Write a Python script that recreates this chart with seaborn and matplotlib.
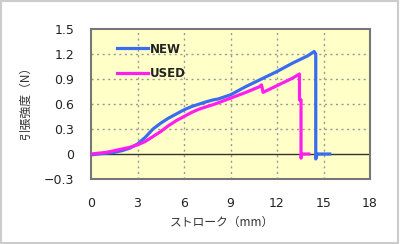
import numpy as np
import pandas as pd
import matplotlib
matplotlib.use("Agg")
import matplotlib.pyplot as plt
from matplotlib.patches import Rectangle
import seaborn as sns

# ---- data ----
new_x = [0, 0.5, 1, 1.5, 2, 2.5, 3, 3.5, 4, 4.5, 5, 5.5, 6, 6.5, 7, 7.5, 7.9, 8.2,
         9, 10, 11, 12, 13, 14, 14.4, 14.5, 14.5, 14.6, 15, 15.4]
new_y = [-0.01, 0.0, 0.01, 0.02, 0.04, 0.07, 0.12, 0.2, 0.3, 0.37, 0.43, 0.48, 0.53,
         0.57, 0.6, 0.63, 0.65, 0.66, 0.71, 0.81, 0.9, 0.99, 1.09, 1.18, 1.23, 1.2,
         -0.06, 0.0, 0.0, 0.0]
used_x = [0, 0.5, 1, 1.5, 2, 2.5, 3, 3.5, 4, 4.5, 5, 5.5, 6, 6.5, 7, 7.5, 8, 9, 10,
          10.9, 11.0, 11.1, 12, 13, 13.45, 13.45, 13.55, 13.55, 13.6, 14.05]
used_y = [0.0, 0.01, 0.02, 0.04, 0.06, 0.08, 0.11, 0.15, 0.21, 0.27, 0.34, 0.4, 0.45,
          0.5, 0.54, 0.57, 0.6, 0.67, 0.74, 0.81, 0.83, 0.74, 0.82, 0.91, 0.96, 0.65,
          0.65, -0.05, 0.0, 0.0]
series_names = ["NEW", "USED"]
series_colors = ["#3a6cf0", "#ff1ef0"]
x_ticks = [0, 3, 6, 9, 12, 15, 18]
y_ticks = [-0.3, 0, 0.3, 0.6, 0.9, 1.2, 1.5]
y_tick_labels = ["−0.3", "0", "0.3", "0.6", "0.9", "1.2", "1.5"]
x_label = "ストローク（mm）"
y_label = "引張強度（N）"

df = pd.concat([
    pd.DataFrame({"x": new_x, "y": new_y, "series": series_names[0]}),
    pd.DataFrame({"x": used_x, "y": used_y, "series": series_names[1]}),
])

plt.rcParams['font.family'] = ['DejaVu Sans', 'Noto Sans CJK JP']

fig = plt.figure(figsize=(4.0, 2.44), dpi=100)
fig.patch.set_facecolor("white")
ax = fig.add_axes([91/400, 1-179/244, 279/400, 150/244])
ax.set_facecolor("#ffffc8")

ax.set_xlim(0, 18)
ax.set_ylim(-0.3, 1.5)
for xv in x_ticks[1:-1]:
    ax.axvline(xv, color="#999999", ls=(0, (1.5, 2.5)), lw=1.0, zorder=1)
for yv in y_ticks[2:-1]:
    ax.axhline(yv, color="#999999", ls=(0, (1.5, 2.5)), lw=1.0, zorder=1)
ax.axhline(0, color="#333333", lw=1.0, zorder=1.5)

for name, col in zip(series_names, series_colors):
    sub = df[df.series == name]
    sns.lineplot(data=sub, x="x", y="y", sort=False, estimator=None, color=col, lw=2.3,
                 ax=ax, zorder=3, label=name)

ax.set_xticks(x_ticks)
ax.set_yticks(y_ticks)
ax.set_xticklabels([str(v) for v in x_ticks])
ax.set_yticklabels(y_tick_labels)
ax.tick_params(length=0, labelsize=9, colors="#222222")
ax.tick_params(axis="x", pad=13)
ax.tick_params(axis="y", pad=12)
for s in ax.spines.values():
    s.set_color("#777777")
    s.set_linewidth(1.5)

ax.set_xlabel("")
ax.set_ylabel("")
fig.text(222/400, 1-222/244, x_label, ha="center", va="center", fontsize=8.5,
         family=['Noto Sans CJK JP'], color="#333333")
fig.text(25/400, 1-100/244, y_label, ha="center", va="center", fontsize=8.5, rotation=90,
         family=['Noto Sans CJK JP'], color="#333333")

leg = ax.legend(loc="upper left", bbox_to_anchor=(0.055, 0.98), frameon=False,
                handlelength=2.6, handletextpad=0.15, labelspacing=1.0,
                prop={"size": 8.5, "weight": "bold"})
for t in leg.get_texts():
    t.set_color("#222222")

fig.patches.append(Rectangle((0.002, 0.004), 0.994, 0.992, transform=fig.transFigure,
                             fill=False, ec="#cccccc", lw=1.5))
fig.savefig("out.png", dpi=100)
